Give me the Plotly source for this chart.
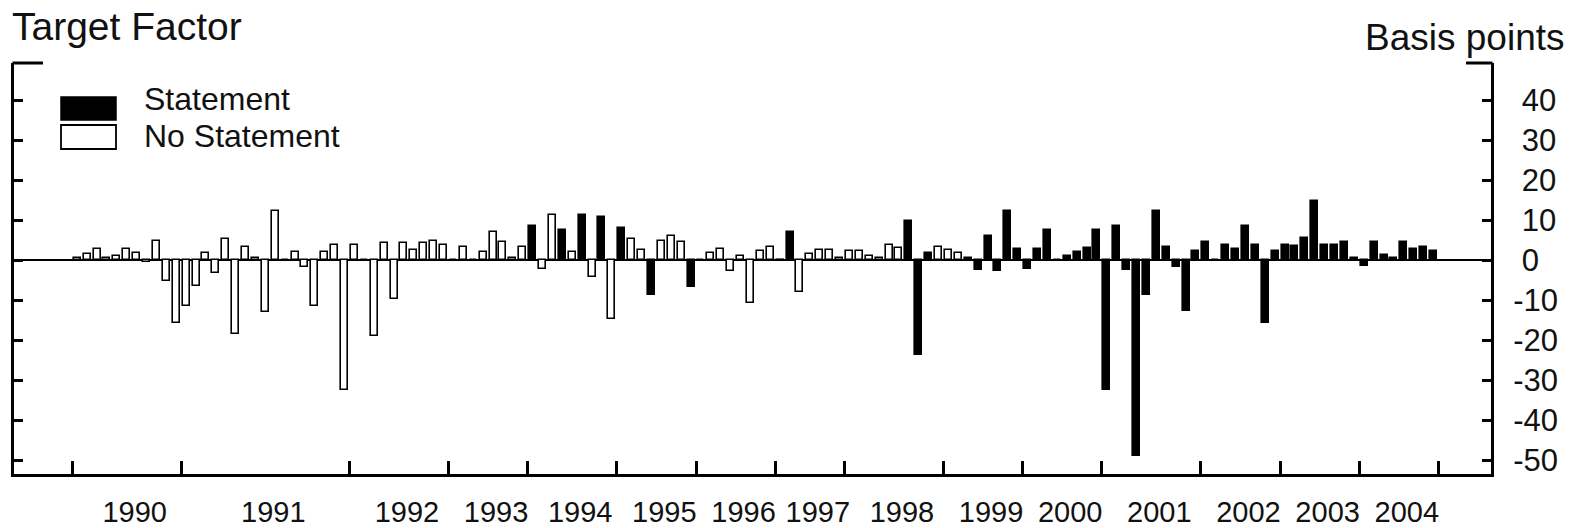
import plotly.graph_objects as go

# ---------------- data ----------------
years = [str(y) for y in range(1990, 2005)]
events_per_year = [11, 17, 10, 8, 9, 8, 8, 7, 10, 8, 8, 10, 8, 8, 8]

tf_1990 = [0.4, 1.5, 2.75, 0.5, 1.1, 2.75, 1.7, -0.6, 4.8, -5.3, -15.75]
tf_1991 = [-11.6, -6.4, 1.7, -3.3, 5.25, -18.5, 3.2, 0.5, -13.1, 12.2, 0.0, 2.1, -1.8, -11.6, 2.1, 3.75, -32.4]
tf_1992 = [3.75, 0.0, -18.9, 4.25, -9.75, 4.25, 2.6, 4.25, 4.8, 3.75]
tf_1993 = [0.0, 3.2, 0.0, 2.1, 6.9, 4.4, 0.5, 3.2]
tf_1994 = [8.6, -2.25, 11.3, 7.6, 2.1, 11.3, -4.3, 10.7, -14.75]
tf_1995 = [8.0, 5.25, 2.6, -8.7, 4.8, 5.9, 4.4, -6.7]
tf_1996 = [0.0, 1.7, 2.75, -2.8, 1.1, -10.8, 2.2, 3.2]
tf_1997 = [-0.3, 6.9, -8.1, 1.5, 2.6, 2.6, 0.5]
tf_1998 = [2.2, 2.2, 1.1, 0.5, 3.8, 2.9, 9.7, -23.75, 1.75, 3.2]
tf_1999 = [2.6, 1.7, 0.5, -2.4, 5.9, -2.8, 12.3, 2.75]
tf_2000 = [-2.25, 2.75, 7.6, 0.0, 1.1, 1.9, 2.9, 7.6]
tf_2001 = [-32.4, 8.6, -2.4, -48.9, -8.7, 12.3, 3.3, -1.8, -12.8, 2.2]
tf_2002 = [4.4, 0.0, 3.8, 2.75, 8.6, 3.8, -15.8, 2.2]
tf_2003 = [3.8, 3.4, 5.4, 14.8, 3.8, 3.8, 4.4, 0.6]
tf_2004 = [-1.4, 4.4, 1.25, 0.6, 4.4, 2.75, 3.3, 2.3]

# 1 = statement released, 0 = no statement
st_1990_1993 = [0] * 46
st_1994 = [1, 0, 0, 1, 0, 1, 0, 1, 0]
st_1995 = [1, 0, 0, 1, 0, 0, 0, 1]
st_1996 = [0, 0, 0, 0, 0, 0, 0, 0]
st_1997 = [1, 1, 0, 0, 0, 0, 0]
st_1998 = [0, 0, 0, 0, 0, 0, 1, 1, 1, 0]
st_1999 = [0, 0, 1, 1, 1, 1, 1, 1]
st_2000_2004 = [1] * 42

y_tick_values = [-50, -40, -30, -20, -10, 0, 10, 20, 30, 40]

# ---------------- assemble ----------------
target_factor = (tf_1990 + tf_1991 + tf_1992 + tf_1993 + tf_1994 + tf_1995 + tf_1996 +
                 tf_1997 + tf_1998 + tf_1999 + tf_2000 + tf_2001 + tf_2002 + tf_2003 + tf_2004)
statement = (st_1990_1993 + st_1994 + st_1995 + st_1996 + st_1997 + st_1998 +
             st_1999 + st_2000_2004)

n = len(target_factor)
xpos = [i + 0.5 for i in range(n)]
bounds = [0]
for c in events_per_year:
    bounds.append(bounds[-1] + c)

LABEL_SHIFT = 0.8  # year labels sit a little right of the span centre
label_pos = [(bounds[i] + bounds[i + 1]) / 2 + LABEL_SHIFT for i in range(len(years))]

# right-axis labels: plain hyphen minus; a no-break space keeps the digits centred
y_tick_text = [str(v) if v < 0 else "\u00a0" + str(v) for v in y_tick_values]

xs_s = [xpos[i] for i in range(n) if statement[i]]
ys_s = [target_factor[i] for i in range(n) if statement[i]]
xs_n = [xpos[i] for i in range(n) if not statement[i]]
ys_n = [target_factor[i] for i in range(n) if not statement[i]]

# ---------------- layout geometry (pixels) ----------------
W, H = 1574, 528
L, R, T, B = 14, 1491, 63, 474
first_tick_px, slot_px = 72.3, 9.9
zero_px, unit_px = 260, 4.0
x0 = -(first_tick_px - L) / slot_px
x1 = x0 + (R - L) / slot_px
y1 = (zero_px - T) / unit_px
y0 = -(B - zero_px) / unit_px


def px(xp):
    return (xp - L) / (R - L)


def py(yp):
    return (B - yp) / (B - T)


FONT = "Liberation Sans, Arial, Helvetica, sans-serif"
BAR_W = 0.7
LINE_W = 1.6

fig = go.Figure()
fig.add_trace(go.Bar(x=xs_n, y=ys_n, width=BAR_W, name="No Statement",
                     marker=dict(color="white", line=dict(color="black", width=LINE_W))))
fig.add_trace(go.Bar(x=xs_s, y=ys_s, width=BAR_W, name="Statement",
                     marker=dict(color="black", line=dict(color="black", width=LINE_W))))

shapes = [
    # top corner caps of the frame
    dict(type="line", xref="paper", yref="paper", x0=px(L - 1.5), x1=px(43), y0=1, y1=1,
         line=dict(color="black", width=3)),
    dict(type="line", xref="paper", yref="paper", x0=px(1466), x1=px(R + 1.5), y0=1, y1=1,
         line=dict(color="black", width=3)),
    # legend swatches
    dict(type="rect", xref="paper", yref="paper", x0=px(61), x1=px(116), y0=py(120), y1=py(97),
         fillcolor="black", line=dict(color="black", width=1.5)),
    dict(type="rect", xref="paper", yref="paper", x0=px(61), x1=px(116), y0=py(149), y1=py(125),
         fillcolor="white", line=dict(color="black", width=1.8)),
]

annotations = [
    dict(text="Target Factor", xref="paper", yref="paper", x=px(10), y=py(26),
         xanchor="left", yanchor="middle", showarrow=False,
         font=dict(family=FONT, size=39, color="#111")),
    dict(text="Basis points", xref="paper", yref="paper", x=px(1567), y=py(37),
         xanchor="right", yanchor="middle", showarrow=False,
         font=dict(family=FONT, size=37, color="#111")),
    dict(text="Statement", xref="paper", yref="paper", x=px(142), y=py(99),
         xanchor="left", yanchor="middle", showarrow=False,
         font=dict(family=FONT, size=32, color="#111")),
    dict(text="No Statement", xref="paper", yref="paper", x=px(142), y=py(136),
         xanchor="left", yanchor="middle", showarrow=False,
         font=dict(family=FONT, size=32, color="#111")),
]

fig.update_layout(
    width=W, height=H,
    margin=dict(l=L, r=W - R, t=T, b=H - B, pad=0, autoexpand=False),
    paper_bgcolor="white", plot_bgcolor="white",
    barmode="overlay", bargap=0, showlegend=False,
    shapes=shapes, annotations=annotations,
    xaxis=dict(
        range=[x0, x1], showgrid=False, zeroline=False, automargin=False,
        showline=True, linecolor="black", linewidth=3, mirror=False,
        tickmode="array", tickvals=label_pos, ticktext=years, ticks="",
        tickfont=dict(family=FONT, size=29, color="#111"),
        ticklabelstandoff=10,
        minor=dict(tickmode="array", tickvals=bounds, ticks="inside",
                   ticklen=13, tickwidth=2.5, tickcolor="black", showgrid=False),
    ),
    yaxis=dict(
        range=[y0, y1], side="right", showgrid=False, automargin=False,
        zeroline=True, zerolinecolor="black", zerolinewidth=1.6,
        showline=True, linecolor="black", linewidth=3, mirror="ticks",
        tickmode="array", tickvals=y_tick_values, ticktext=y_tick_text,
        ticks="inside", ticklen=9, tickwidth=2.5, tickcolor="black",
        tickfont=dict(family=FONT, size=31, color="#111"),
        ticklabelstandoff=13,
    ),
)

fig.write_html("out.html")
